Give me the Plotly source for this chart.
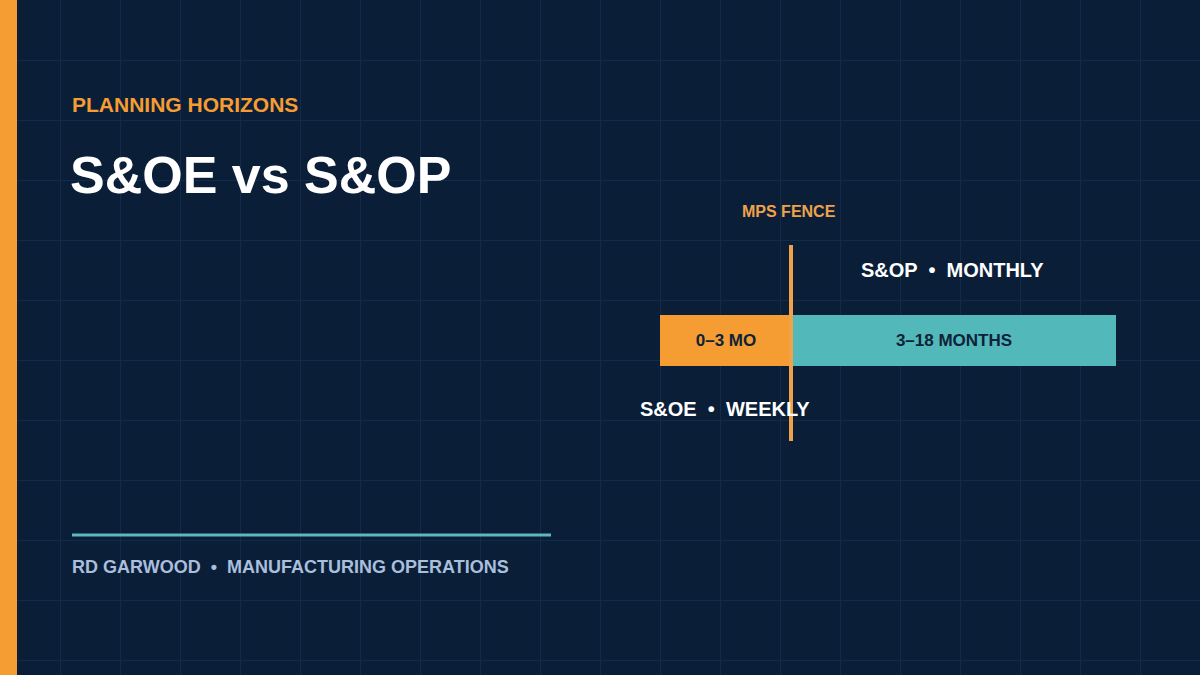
import plotly.graph_objects as go

segments = ["<b>0–3 MO</b>", "<b>3–18 MONTHS</b>"]
seg_start = [660, 792]
seg_len = [132, 324]
seg_colors = ["#f59d32", "#52b8ba"]
fence_x = 791

BG = "#0a1e38"
fig = go.Figure()
fig.add_trace(go.Bar(
    y=[340, 340], x=seg_len, base=seg_start, orientation="h", width=51,
    marker=dict(color=seg_colors, line=dict(width=0)),
    text=segments, textposition="inside", insidetextanchor="middle",
    textfont=dict(family="Liberation Sans", size=17, color="#0e2238"),
    hoverinfo="skip", showlegend=False))

fig.add_shape(type="rect", x0=0, x1=17, y0=0, y1=675, fillcolor="#f59d32", line_width=0, layer="above")
fig.add_shape(type="line", x0=fence_x, x1=fence_x, y0=245, y1=441, line=dict(color="#f0a24a", width=4), layer="above")
fig.add_shape(type="line", x0=72, x1=551, y0=535, y1=535, line=dict(color="#5fb8bd", width=3))

def ann(x, y, text, size, color, anchor="left"):
    fig.add_annotation(x=x, y=y, text=text, showarrow=False, xanchor=anchor, yanchor="middle",
                       font=dict(family="Liberation Sans", size=size, color=color))

ann(70, 104, "<b>PLANNING HORIZONS</b>", 21, "#f59d32")
ann(68, 175, "<b>S&OE vs S&OP</b>", 52, "#ffffff")
ann(789, 211, "<b>MPS FENCE</b>", 16, "#f0a24a", "center")
ann(952, 270, "<b>S&OP  •  MONTHLY</b>", 20, "#ffffff", "center")
ann(725, 409, "<b>S&OE  •  WEEKLY</b>", 20, "#ffffff", "center")
ann(70, 567, "<b>RD GARWOOD  •  MANUFACTURING OPERATIONS</b>", 18, "#a9bfdc")

ax = dict(range=[0, 1200], showgrid=True, gridcolor="#102c4a", gridwidth=1, dtick=60, tick0=0,
          zeroline=False, showticklabels=False, ticks="", fixedrange=True)
fig.update_layout(
    width=1200, height=675, margin=dict(l=0, r=0, t=0, b=0),
    paper_bgcolor=BG, plot_bgcolor=BG,
    xaxis=ax, yaxis=dict(ax, range=[675, 0]), bargap=0)
fig.write_html("out.html", config={"displayModeBar": False},
               post_script="document.body.style.margin='0';document.body.style.background='#0a1e38';")
